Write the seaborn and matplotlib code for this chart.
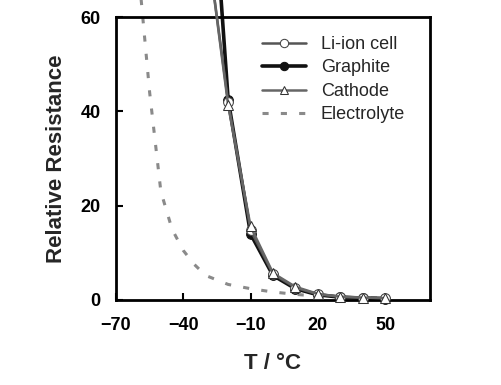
import numpy as np
import pandas as pd
import matplotlib
matplotlib.use("Agg")
import matplotlib.pyplot as plt
import seaborn as sns

# data
temps = [-30, -20, -10, 0, 10, 20, 30, 40, 50]
li_ion = [78, 42.0, 14.8, 5.5, 2.6, 1.2, 0.7, 0.5, 0.4]
graphite = [110, 42.5, 14.0, 5.2, 2.4, 1.1, 0.6, 0.4, 0.3]
cathode = [78, 41.3, 15.6, 5.7, 2.8, 1.3, 0.7, 0.5, 0.4]

elec_temps = [-60, -55, -50, -45, -40, -35, -30, -20, -10, 0, 10, 20, 30, 40, 50]
electrolyte = [70, 44, 23, 15, 10.5, 7.5, 5.2, 3.3, 2.4, 1.7, 1.2, 0.8, 0.6, 0.5, 0.4]

x_ticks = [-70, -40, -10, 20, 50]
y_ticks = [0, 20, 40, 60]

sns.set_style("ticks")
plt.rcParams['font.family'] = ['Liberation Sans', 'DejaVu Sans']

fig = plt.figure(figsize=(5.01, 3.85), dpi=100)
ax = fig.add_axes([116 / 501, 85 / 385, 314 / 501, 283 / 385])

sns.lineplot(x=temps, y=li_ion, ax=ax, color='#555555', lw=1.8, marker='o',
             markersize=7, markerfacecolor='white', markeredgecolor='#444444',
             label='Li-ion cell', clip_on=False, zorder=3)
sns.lineplot(x=temps, y=graphite, ax=ax, color='#111111', lw=2.6, marker='o',
             markersize=7, markerfacecolor='#111111', markeredgecolor='#111111',
             label='Graphite', clip_on=False, zorder=2)
sns.lineplot(x=temps, y=cathode, ax=ax, color='#666666', lw=1.8, marker='^',
             markersize=7, markerfacecolor='white', markeredgecolor='#333333',
             label='Cathode', clip_on=False, zorder=4)
sns.lineplot(x=elec_temps, y=electrolyte, ax=ax, color='#8a8a8a', lw=2.2,
             linestyle=(0, (2.0, 4.0)), label='Electrolyte', clip_on=False, zorder=1)

ax.set_xlim(-70, 70)
ax.set_ylim(0, 60)
ax.set_xticks(x_ticks)
ax.set_yticks(y_ticks)
ax.tick_params(axis='both', direction='in', length=5, width=1.5,
               labelsize=13, colors='black')
ax.tick_params(axis='x', pad=12)
ax.tick_params(axis='y', pad=11)
for lab in ax.get_xticklabels() + ax.get_yticklabels():
    lab.set_fontweight('bold')
for sp in ax.spines.values():
    sp.set_visible(True)
    sp.set_linewidth(2)
    sp.set_color('black')

ax.set_xlabel('T / °C', fontsize=16, fontweight='bold', labelpad=14)
ax.set_ylabel('Relative Resistance', fontsize=16, fontweight='bold', labelpad=10)

leg = ax.legend(loc='upper left', bbox_to_anchor=(0.465, 0.933), frameon=False,
                fontsize=13, handlelength=2.45, handletextpad=0.8,
                labelspacing=0.36, borderpad=0, borderaxespad=0)
for h in leg.get_lines():
    h.set_markersize(6)

fig.savefig('out.png', dpi=100)
